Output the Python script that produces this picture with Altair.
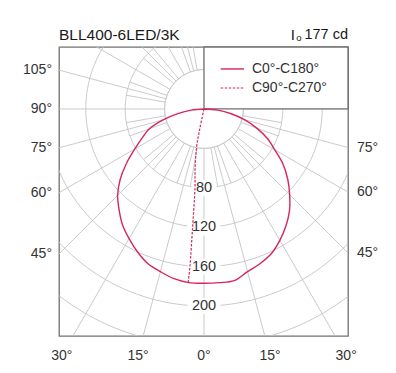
import math
import altair as alt
import numpy as np
import pandas as pd

# ---------------- data ----------------
title_text = "BLL400-6LED/3K"
i0_text = "177 cd"
legend_names = ["C0°-C180°", "C90°-C270°"]

gamma_deg = [0, 5, 10, 15, 20, 25, 30, 35, 40, 45, 50, 55, 60, 65, 70, 75, 80, 85, 90]
c0_cd = [177, 177, 177, 171, 167, 162, 154, 145, 135, 123, 111, 98, 83, 71, 57, 43, 28, 14, 0]
c180_cd = [177, 177, 175, 171, 167, 160, 152, 144, 134, 124, 111, 96, 81, 69, 59, 43, 27, 13, 0]

c270_gamma = [14, 12, 11, 8.5, 6.5, 5.5, 5.1, 5.2]
c270_cd = [0, 20, 39, 61, 81, 121, 161, 177]

ring_cd = [40, 80, 120, 160, 200, 240, 280]
ring_label_cd = [80, 120, 160, 200]
left_angle_labels = [105, 90, 75, 60, 45]
right_angle_labels = [75, 60, 45]
bottom_angle_labels = [-30, -15, 0, 15, 30]

# ---------------- layout ----------------
PX = 0.985  # pixels per cd
XMIN, XMAX = -147.2, 146.2
YMIN, YMAX = -230.5, 62.9
W = H = 289
FONT = "Liberation Sans"
GRID = "#c4c4c4"
RED = "#d7265b"
TXT = "#333333"

xs = alt.Scale(domain=[XMIN, XMAX], nice=False, zero=False)
ys = alt.Scale(domain=[YMIN, YMAX], nice=False, zero=False)


def X(f="x"):
    return alt.X(f"{f}:Q", scale=xs, axis=None)


def Y(f="y"):
    return alt.Y(f"{f}:Q", scale=ys, axis=None)


rad = np.pi / 180

# rings
rows = []
for r in ring_cd:
    for i, t in enumerate(np.arange(0, 361, 2)):
        rows.append({"ring": r, "o": i, "x": r * math.sin(t * rad), "y": r * math.cos(t * rad)})
rings = pd.DataFrame(rows)

# rays
ray_rows = []
for a in range(0, 360, 15):
    ray_rows.append({"x": 40 * math.sin(a * rad), "y": -40 * math.cos(a * rad),
                     "x2": 400 * math.sin(a * rad), "y2": -400 * math.cos(a * rad)})
for a in range(0, 360, 10):
    if a % 15 == 0:
        continue
    ray_rows.append({"x": 40 * math.sin(a * rad), "y": -40 * math.cos(a * rad),
                     "x2": 80 * math.sin(a * rad), "y2": -80 * math.cos(a * rad)})
rays = pd.DataFrame(ray_rows)

# ring labels with white backing
lab = pd.DataFrame({
    "x": [0.0] * len(ring_label_cd),
    "y": [-v for v in ring_label_cd],
    "t": [str(v) for v in ring_label_cd],
})
lab["bx"] = [-(len(t) * 8.3 + 8) / 2 / PX for t in lab["t"]]
lab["bx2"] = [(len(t) * 8.3 + 8) / 2 / PX for t in lab["t"]]
lab["by"] = lab["y"] - 8 / PX
lab["by2"] = lab["y"] + 8 / PX

# photometric curve C0-C180
crow = []
k = 0
for g, v in zip(reversed(gamma_deg), reversed(c180_cd)):
    crow.append({"o": k, "x": -v * math.sin(g * rad), "y": -v * math.cos(g * rad)}); k += 1
for g, v in zip(gamma_deg[1:], c0_cd[1:]):
    crow.append({"o": k, "x": v * math.sin(g * rad), "y": -v * math.cos(g * rad)}); k += 1
curve0 = pd.DataFrame(crow)

curve90 = pd.DataFrame({
    "o": list(range(len(c270_cd))),
    "x": [-v * math.sin(g * rad) for g, v in zip(c270_gamma, c270_cd)],
    "y": [-v * math.cos(g * rad) for g, v in zip(c270_gamma, c270_cd)],
})

# angle labels
left_lab = pd.DataFrame({
    "x": [XMIN] * len(left_angle_labels),
    "y": [XMIN * math.cos(a * rad) / math.sin(a * rad) for a in left_angle_labels],
    "t": [f"{a}°" for a in left_angle_labels],
})
right_lab = pd.DataFrame({
    "x": [XMAX] * len(right_angle_labels),
    "y": [-XMAX * math.cos(a * rad) / math.sin(a * rad) for a in right_angle_labels],
    "t": [f"{a}°" for a in right_angle_labels],
})
bot_lab = pd.DataFrame({
    "x": [250 * math.tan(a * rad) for a in bottom_angle_labels],
    "y": [-251.0] * len(bottom_angle_labels),
    "t": [f"{abs(a)}°" for a in bottom_angle_labels],
})

legend_box = pd.DataFrame({"x": [0.0], "x2": [XMAX], "y": [0.0], "y2": [YMAX]})
leg_y = [40.6, 21.3]
legend_lines = pd.DataFrame({"x": [17.0, 17.0], "x2": [40.6, 40.6], "y": leg_y,
                             "s": legend_names})
legend_text = pd.DataFrame({"x": [48.7, 48.7], "y": leg_y, "t": legend_names})

head = pd.DataFrame({"x": [XMIN, XMAX], "y": [74.6, 74.6], "t": [title_text, i0_text]})

# ---------------- layers ----------------
l_rings = alt.Chart(rings).mark_line(color=GRID, strokeWidth=0.9, clip=True).encode(
    x=X(), y=Y(), detail="ring:N", order="o:Q")
l_inner = alt.Chart(pd.DataFrame({"x": [0.0], "y": [0.0]})).mark_point(
    shape="circle", size=(2 * 40 * PX) ** 2, filled=True, fill="white", stroke=GRID,
    strokeWidth=0.9, opacity=1).encode(x=X(), y=Y())
l_rays = alt.Chart(rays).mark_rule(color=GRID, strokeWidth=0.9, clip=True).encode(
    x=X(), y=Y(), x2="x2:Q", y2="y2:Q")
l_lbg = alt.Chart(lab).mark_rect(fill="white").encode(
    x=X("bx"), x2="bx2:Q", y=Y("by"), y2="by2:Q")
l_ltxt = alt.Chart(lab).mark_text(font=FONT, fontSize=14.5, color=TXT, baseline="middle").encode(
    x=X(), y=Y(), text="t:N")
l_box = alt.Chart(legend_box).mark_rect(fill="white", stroke="#707070", strokeWidth=1.3).encode(
    x=X(), x2="x2:Q", y=Y(), y2="y2:Q")
l_c0 = alt.Chart(curve0).mark_line(color=RED, strokeWidth=1.4, interpolate="catmull-rom",
                                   clip=True).encode(x=X(), y=Y(), order="o:Q")
l_c90 = alt.Chart(curve90).mark_line(color=RED, strokeWidth=1.2, strokeDash=[2.5, 1.5],
                                     interpolate="catmull-rom", clip=True).encode(
    x=X(), y=Y(), order="o:Q")
l_leg_solid = alt.Chart(legend_lines.iloc[[0]]).mark_rule(color=RED, strokeWidth=1.4).encode(
    x=X(), x2="x2:Q", y=Y())
l_leg_dash = alt.Chart(legend_lines.iloc[[1]]).mark_rule(color=RED, strokeWidth=1.2,
                                                         strokeDash=[2.5, 1.5]).encode(
    x=X(), x2="x2:Q", y=Y())
l_leg_txt = alt.Chart(legend_text).mark_text(font=FONT, fontSize=14, color=TXT, align="left",
                                             baseline="middle").encode(x=X(), y=Y(), text="t:N")
l_left = alt.Chart(left_lab).mark_text(font=FONT, fontSize=14, color=TXT, align="right",
                                       baseline="middle", dx=-7).encode(x=X(), y=Y(), text="t:N")
l_right = alt.Chart(right_lab).mark_text(font=FONT, fontSize=14, color=TXT, align="left",
                                         baseline="middle", dx=9).encode(x=X(), y=Y(), text="t:N")
l_bot = alt.Chart(bot_lab).mark_text(font=FONT, fontSize=14, color=TXT, align="center",
                                     baseline="middle").encode(x=X(), y=Y(), text="t:N")
l_title = alt.Chart(head.iloc[[0]]).mark_text(font=FONT, fontSize=15.5, color="#1a1a1a",
                                              align="left", baseline="middle").encode(
    x=X(), y=Y(), text="t:N")
l_i0 = alt.Chart(head.iloc[[1]]).mark_text(font=FONT, fontSize=14.5, color="#1a1a1a",
                                           align="right", baseline="middle").encode(
    x=X(), y=Y(), text="t:N")
l_I = alt.Chart(head.iloc[[1]]).mark_text(font=FONT, fontSize=15, color="#1a1a1a",
                                          align="right", baseline="middle", dx=-53).encode(
    x=X(), y=Y(), text=alt.value("I"))
l_o = alt.Chart(head.iloc[[1]]).mark_text(font=FONT, fontSize=9.5, color="#1a1a1a",
                                          align="right", baseline="middle", dx=-46.5, dy=3).encode(
    x=X(), y=Y(), text=alt.value("o"))

chart = alt.layer(
    l_rings, l_inner, l_rays, l_lbg, l_ltxt, l_box, l_c0, l_c90,
    l_leg_solid, l_leg_dash, l_leg_txt, l_left, l_right, l_bot, l_title, l_i0, l_I, l_o,
).properties(
    width=W, height=H, autosize="none",
    padding={"left": 51, "top": 39, "right": 39, "bottom": 28},
    background="white",
).configure_view(stroke="#707070", strokeWidth=1.3)

chart.save("out.html", embed_options={"renderer": "svg", "actions": False})
